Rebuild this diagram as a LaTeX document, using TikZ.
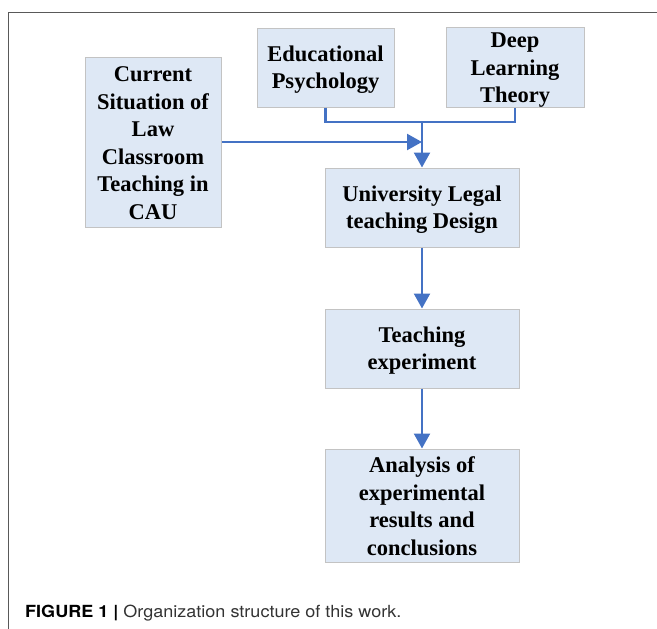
\documentclass[tikz,border=0pt]{standalone}
\usepackage{fontspec}
\setmainfont{Liberation Serif}
\newfontfamily\capfont{TeX Gyre Heros}
\usetikzlibrary{arrows.meta}
\definecolor{boxfill}{HTML}{DEE8F5}
\definecolor{boxline}{HTML}{C3C3C3}
\definecolor{flow}{HTML}{4472C4}
\newcommand\boxtop{\rule{0pt}{20pt}}
\newcommand\boxbot{\rule[-3.4pt]{0pt}{3.4pt}}

\begin{document}
\begin{tikzpicture}[x=1pt,y=-1pt,
  box/.style={draw=boxline,fill=boxfill,line width=1pt,inner sep=0pt,align=center,
    font=\bfseries\fontsize{22.5}{27.5}\selectfont},
  flowline/.style={draw=flow,line width=2.3pt},
  flowarrow/.style={flowline,-{Triangle[length=15pt,width=16pt]}}]
\useasboundingbox (0,0) rectangle (657,629);
\draw[black!65,line width=1pt] (8,629) -- (8,12) -- (657,12);
\node[box,minimum width=136pt,minimum height=170pt] (situation) at (153,142)
  {\boxtop Current\\Situation of\\Law\\Classroom\\Teaching in\\CAU\boxbot};
\node[box,minimum width=137pt,minimum height=79pt] (psych) at (325.5,67.5)
  {\boxtop Educational\\Psychology\boxbot};
\node[box,minimum width=138pt,minimum height=79pt] (deep) at (515,67.5)
  {\boxtop Deep\\Learning\\Theory\boxbot};
\node[box,minimum width=194pt,minimum height=79pt] (design) at (422,207.5)
  {\boxtop University Legal\\teaching Design\boxbot};
\node[box,minimum width=194pt,minimum height=79pt] (experiment) at (422,348.5)
  {\boxtop Teaching\\experiment\boxbot};
\node[box,minimum width=194pt,minimum height=113pt] (analysis) at (422,505.5)
  {\boxtop Analysis of\\experimental\\results and\\conclusions\boxbot};
\coordinate (join) at (422,122);
\draw[flowline] (psych.south) |- (join) -| (deep.south);
\draw[flowarrow] (join) -- (design.north);
\draw[flowarrow] (situation.east) -- (join |- situation.east);
\draw[flowarrow] (design) -- (experiment);
\draw[flowarrow] (experiment) -- (analysis);
\node[anchor=base west,inner sep=0pt,font=\capfont\fontsize{16.7}{20}\selectfont] (caption) at (25,617)
  {\scalebox{1.08}[1]{\textbf{FIGURE 1 |} \textcolor{black!80}{Organization structure of this work.}}};
\end{tikzpicture}
\end{document}
